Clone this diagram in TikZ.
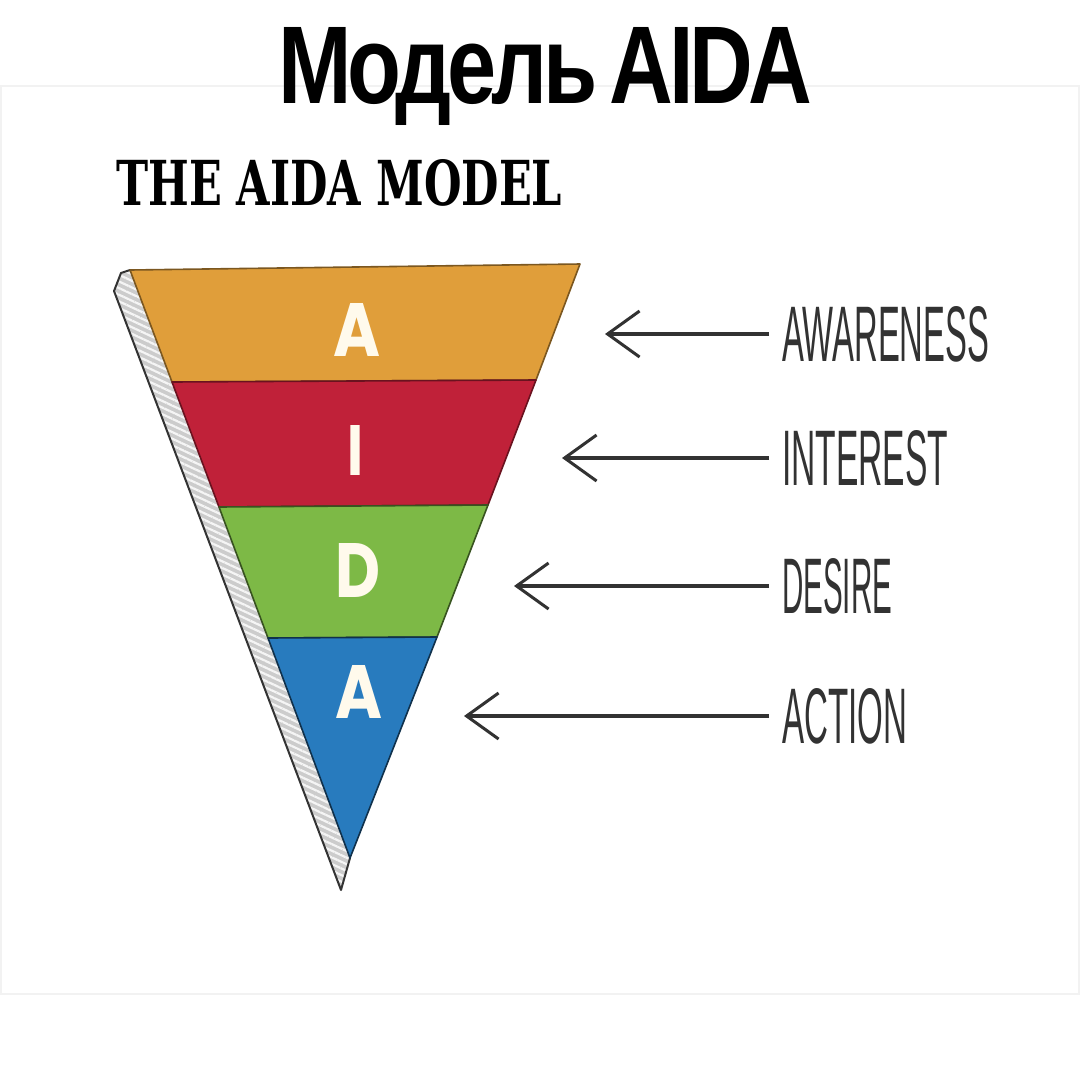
\documentclass[tikz,border=0pt]{standalone}
\usepackage{fontspec}
\usepackage{graphicx}
\usetikzlibrary{arrows.meta,patterns.meta}
\newfontfamily\titlefont{Liberation Sans}[LetterSpace=-5,WordSpace=0.6]
\newfontfamily\slabfont{DejaVu Serif}
\newfontfamily\letterfont{Poppins}
\newfontfamily\handfont{Liberation Sans}
\definecolor{aorange}{RGB}{224,158,58}
\definecolor{ared}{RGB}{192,33,57}
\definecolor{agreen}{RGB}{125,185,70}
\definecolor{ablue}{RGB}{40,123,190}
\definecolor{ink}{RGB}{50,50,50}
\definecolor{cream}{RGB}{255,250,236}
\tikzset{
  band/.style={line width=1.6pt, line join=round},
  bigletter/.style={anchor=north west, inner sep=0pt, text=cream},
  stagelabel/.style={anchor=west, inner sep=0pt, text=ink},
  pointer/.style={draw=ink, line width=3.5pt, shorten <=13pt,
    -{Straight Barb[length=32pt,width=46pt,line width=3pt]}}
}
\begin{document}
\begin{tikzpicture}[x=1pt,y=-1pt]
\useasboundingbox (0,0) rectangle (1080,1080);
\fill[white] (0,0) rectangle (1080,1080);
\draw[gray!10, line width=2pt] (1,86) rectangle (1079,994);

% title
\node[anchor=north west, inner sep=0pt] (title) at (278,27)
  {\resizebox{534pt}{76pt}{\titlefont\bfseries Модель AIDA}};
\node[anchor=north west, inner sep=0pt] (subtitle) at (116,159)
  {\resizebox{446pt}{46pt}{\slabfont\bfseries THE AIDA MODEL}};

% side strip (hatched)
\fill[gray!40] (130,270) -- (121,273) -- (114,291) -- (341,890) -- (350,858) -- cycle;
\fill[pattern={Lines[angle=-25,distance=6pt,line width=2.2pt]}, pattern color=gray!8]
  (130,270) -- (121,273) -- (114,291) -- (341,890) -- (350,858) -- cycle;
\draw[gray!40!black, line width=2pt, line join=round]
  (130,270) -- (121,273) -- (114,291) -- (341,890) -- (350,858);

% bands
\filldraw[band, fill=aorange, draw=aorange!55!black] (130,270) -- (580,264) -- (536,380) -- (172,382) -- cycle;
\filldraw[band, fill=ared, draw=ared!55!black] (172,382) -- (536,380) -- (488,505) -- (219,507) -- cycle;
\filldraw[band, fill=agreen, draw=agreen!45!black] (219,507) -- (488,505) -- (437,637) -- (268,638) -- cycle;
\filldraw[band, fill=ablue, draw=ablue!40!black] (268,638) -- (437,637) -- (350,858) -- cycle;

% letters
\node[bigletter] (lA) at (333,303) {\resizebox{47pt}{53pt}{\letterfont\bfseries A}};
\node[bigletter] (lI) at (347,425) {\resizebox{16pt}{50pt}{\letterfont\bfseries I}};
\node[bigletter] (lD) at (335,543) {\resizebox{45pt}{54pt}{\letterfont\bfseries D}};
\node[bigletter] (lA2) at (335,665) {\resizebox{47pt}{53pt}{\letterfont\bfseries A}};

% labels
\node[stagelabel] (aw) at (782,334) {\resizebox{207pt}{55pt}{\handfont AWARENESS}};
\node[stagelabel] (in) at (782,458) {\resizebox{166pt}{55pt}{\handfont INTEREST}};
\node[stagelabel] (de) at (782,586) {\resizebox{110pt}{55pt}{\handfont DESIRE}};
\node[stagelabel] (ac) at (782,716) {\resizebox{125pt}{55pt}{\handfont ACTION}};

\coordinate (tAw) at (605,334);
\coordinate (tIn) at (562,458);
\coordinate (tDe) at (514,586);
\coordinate (tAc) at (464,716);

\draw[pointer] (aw.west) -- (tAw);
\draw[pointer] (in.west) -- (tIn);
\draw[pointer] (de.west) -- (tDe);
\draw[pointer] (ac.west) -- (tAc);
\end{tikzpicture}
\end{document}
